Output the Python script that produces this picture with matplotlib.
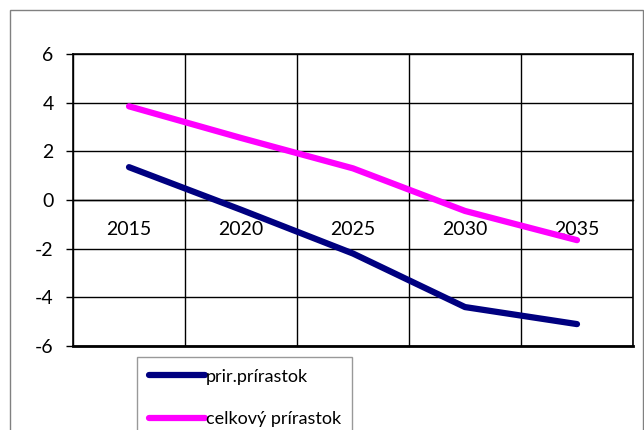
import matplotlib
matplotlib.use('Agg')
import matplotlib.pyplot as plt
from matplotlib.patches import Rectangle

years = ['2015', '2020', '2025', '2030', '2035']
prir_prirastok = [1.35, -0.4, -2.2, -4.4, -5.1]
celkovy_prirastok = [3.85, 2.55, 1.3, -0.45, -1.65]
y_ticks = [-6, -4, -2, 0, 2, 4, 6]

plt.rcParams['font.family'] = ['Lato', 'DejaVu Sans']

W, H = 644, 430
fig = plt.figure(figsize=(W / 100, H / 100), dpi=100)
fig.patches.append(Rectangle(
    (10 / W, -0.1), (633 / W), 1 - 10 / H + 0.1,
    transform=fig.transFigure, fill=False, edgecolor='#808080', linewidth=1,
))
ax = fig.add_axes([73 / W, 1 - 346 / H, 560 / W, 292 / H])

x = list(range(len(years)))
ax.plot(x, prir_prirastok, color='#000080', linewidth=4.5,
        solid_capstyle='round', solid_joinstyle='round', label='prir.prírastok', zorder=3)
ax.plot(x, celkovy_prirastok, color='#FF00FF', linewidth=4.5,
        solid_capstyle='round', solid_joinstyle='round', label='celkový prírastok', zorder=3)

ax.set_xlim(-0.5, len(years) - 0.5)
ax.set_ylim(-6, 6)
ax.set_yticks(y_ticks)
ax.set_yticklabels([str(v) for v in y_ticks])
ax.set_xticks(x)
ax.set_xticklabels(years)
ax.set_xticks([i - 0.5 for i in range(len(years) + 1)], minor=True)

ax.grid(True, axis='y', color='black', linewidth=1)
ax.grid(True, axis='x', which='minor', color='black', linewidth=1)
ax.set_axisbelow(True)

ax.spines['bottom'].set_position(('data', 0))
ax.spines['bottom'].set_linewidth(1)
for s in ['left', 'right', 'top']:
    ax.spines[s].set_linewidth(1.2)
ax.axhline(-6, color='black', linewidth=2, clip_on=False)

ax.tick_params(axis='x', which='both', length=0, pad=15, labelsize=14)
ax.tick_params(axis='y', length=5, width=1, pad=9, labelsize=14)

leg = fig.legend(loc='upper left', bbox_to_anchor=(137 / W, 1 - 357 / H),
                 frameon=True, fancybox=False, edgecolor='#808080',
                 fontsize=13, handlelength=3.1, handletextpad=0.05,
                 labelspacing=1.45, borderpad=0.65, borderaxespad=0)
leg.get_frame().set_linewidth(1)

fig.savefig('out.png', dpi=100)
